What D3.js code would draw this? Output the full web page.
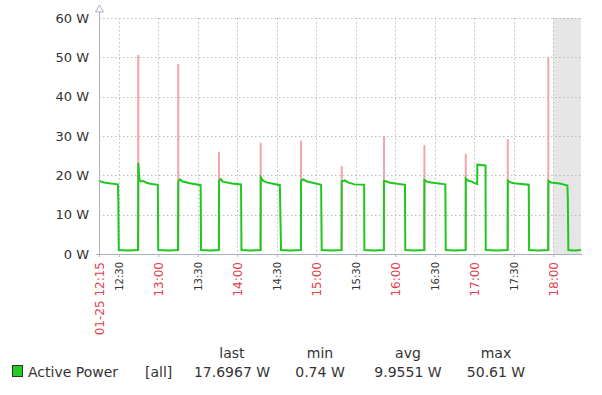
<!DOCTYPE html>
<html>
<head>
<meta charset="utf-8">
<script src="https://cdn.jsdelivr.net/npm/d3@7"></script>
<style>
  body { margin: 0; background: #fff; }
  svg { display: block; font-family: "DejaVu Sans", sans-serif; }
</style>
</head>
<body>
<div id="chart"></div>
<script>
// ---- data ----
const avgTimes = [
  "12:15:00","12:16:30","12:19:00","12:24:00","12:29:20","12:29:40","12:30:00","12:37:00","12:44:40",
  "12:44:50","12:45:40","12:47:00","12:48:30","12:51:00","12:55:00","12:59:40","13:00:00","13:08:00","13:15:00",
  "13:15:12","13:16:30","13:18:00","13:24:00","13:32:10","13:32:30","13:40:00","13:46:00",
  "13:46:06","13:47:30","13:49:00","13:56:00","14:02:50","14:03:00","14:03:10","14:10:00","14:17:40",
  "14:17:48","14:19:48","14:22:18","14:32:20","14:33:12","14:40:00","14:48:18",
  "14:48:24","14:50:00","14:52:30","15:03:40","15:04:06","15:12:00","15:19:10",
  "15:19:18","15:21:48","15:24:00","15:29:00","15:36:20","15:36:30","15:44:00","15:51:18",
  "15:51:24","15:53:00","15:56:00","16:07:20","16:07:36","16:15:00","16:22:00",
  "16:22:06","16:24:00","16:27:00","16:38:00","16:38:18","16:45:00","16:53:24",
  "16:53:30","16:55:30","16:58:00","17:01:00","17:02:10","17:02:18","17:08:30","17:08:40","17:17:00","17:25:18",
  "17:25:24","17:27:30","17:30:00","17:41:20","17:41:36","17:49:00","17:56:06",
  "17:56:12","17:58:00","18:05:00","18:10:40","18:11:00","18:11:24","18:16:00","18:21:00"
];
const avgValues = [
  18.7,18.4,18.2,17.9,17.7,14.0,1.0,0.9,1.0,
  23.2,18.9,18.4,18.6,18.1,17.8,17.6,1.0,0.9,1.0,
  18.6,19.0,18.5,18.0,17.5,1.0,0.9,1.0,
  18.6,19.0,18.4,17.9,17.7,11.0,1.0,0.9,1.0,
  19.5,18.6,18.2,17.5,1.0,0.9,1.0,
  18.6,19.0,18.5,17.6,1.0,0.9,1.0,
  18.5,18.7,18.2,17.7,17.6,1.0,0.9,1.0,
  18.6,18.5,18.1,17.6,1.0,0.9,1.0,
  18.8,18.4,18.2,17.7,1.0,0.9,1.0,
  19.2,18.6,18.4,17.9,17.8,22.7,22.5,1.0,0.9,1.0,
  18.6,18.2,18.0,17.6,1.0,0.9,1.0,
  18.6,18.2,17.9,17.4,14.0,1.0,0.9,1.0
];
const spikeTimes = ["12:44:50","13:15:12","13:46:06","14:17:48","14:48:24","15:19:18",
                    "15:51:24","16:22:06","16:53:30","17:25:24","17:56:12"];
const spikeMax = [50.61, 48.3, 26.0, 28.3, 28.8, 22.4, 30.0, 27.7, 25.5, 29.2, 49.9];

const yTicks = [0, 10, 20, 30, 40, 50, 60];
const xTickTimes = ["12:15","12:30","13:00","13:30","14:00","14:30","15:00","15:30",
                    "16:00","16:30","17:00","17:30","18:00"];
const xTickLabels = ["01-25 12:15","12:30","13:00","13:30","14:00","14:30","15:00","15:30",
                     "16:00","16:30","17:00","17:30","18:00"];
const timeStart = "12:15:00", timeEnd = "18:21:00", workEnd = "18:00:00";

const legendName = "Active Power";
const legendFunc = "[all]";
const statNames = ["last", "min", "avg", "max"];
const statValues = ["17.6967 W", "0.74 W", "9.9551 W", "50.61 W"];

// ---- drawing ----
const width = 602, height = 395;
const plot = {left: 99, right: 581, top: 18, bottom: 254};
const green = "#1ec81e", pink = "#f5a3ad", red = "#e2404c", axisCol = "#a9b1bc", gridCol = "#bdbdbd";

const parseT = d3.timeParse("%H:%M:%S");
const parseHM = d3.timeParse("%H:%M");

const avg = avgTimes.map((t, i) => ({t: parseT(t), v: avgValues[i]}));
const spikes = spikeTimes.map((t, i) => ({t: parseT(t), v: spikeMax[i]}));

const x = d3.scaleTime()
    .domain([parseT(timeStart), parseT(timeEnd)])
    .range([plot.left, plot.right]);
const y = d3.scaleLinear()
    .domain([0, 60])
    .range([plot.bottom, plot.top]);

const svg = d3.select("#chart").append("svg")
    .attr("width", width)
    .attr("height", height);

// non-working time shading
svg.append("rect")
    .attr("x", x(parseT(workEnd)))
    .attr("y", plot.top)
    .attr("width", plot.right - x(parseT(workEnd)))
    .attr("height", plot.bottom - plot.top)
    .attr("fill", "#e6e6e6");

// grid
const grid = svg.append("g").attr("stroke", gridCol).attr("stroke-dasharray", "1.5,2.5").attr("stroke-width", 1);
grid.selectAll("line.h")
  .data(yTicks.filter(d => d > 0))
  .join("line")
    .attr("x1", plot.left).attr("x2", plot.right)
    .attr("y1", d => Math.round(y(d)) + 0.5).attr("y2", d => Math.round(y(d)) + 0.5);
grid.selectAll("line.v")
  .data(xTickTimes.slice(1))
  .join("line")
    .attr("x1", d => Math.round(x(parseHM(d))) + 0.5).attr("x2", d => Math.round(x(parseHM(d))) + 0.5)
    .attr("y1", plot.top).attr("y2", plot.bottom);

// max spikes (under the avg line)
svg.append("g").selectAll("line")
  .data(spikes)
  .join("line")
    .attr("x1", d => x(d.t)).attr("x2", d => x(d.t))
    .attr("y1", y(1)).attr("y2", d => y(d.v))
    .attr("stroke", pink).attr("stroke-width", 2);

// avg line
svg.append("path")
    .datum(avg)
    .attr("fill", "none")
    .attr("stroke", green)
    .attr("stroke-width", 2)
    .attr("stroke-linejoin", "miter")
    .attr("d", d3.line().x(d => x(d.t)).y(d => y(d.v)));

// y axis
const yAxis = d3.axisLeft(y)
    .tickValues(yTicks)
    .tickSize(0)
    .tickPadding(10)
    .tickFormat(d => d + " W");
svg.append("g")
    .attr("transform", `translate(${plot.left},0)`)
    .call(yAxis)
    .call(g => g.select(".domain").remove())
    .selectAll("text")
      .attr("font-size", 13)
      .attr("font-family", "DejaVu Sans")
      .attr("fill", "#333");

// x axis labels
const xAxis = d3.axisBottom(x)
    .tickValues(xTickTimes.map(parseHM))
    .tickSize(3)
    .tickFormat((d, i) => xTickLabels[i]);
svg.append("g")
    .attr("transform", `translate(0,${plot.bottom})`)
    .call(xAxis)
    .call(g => g.select(".domain").remove())
    .call(g => g.selectAll(".tick line").attr("stroke", axisCol))
    .selectAll("text")
      .attr("font-family", "DejaVu Sans")
      .attr("text-anchor", "end")
      .attr("transform", "translate(0,8) rotate(-90)")
      .attr("x", 0).attr("y", 0).attr("dy", "0.35em")
      .attr("font-size", (d, i) => i === 0 || d.getMinutes() === 0 ? 12 : 10)
      .attr("fill", (d, i) => i === 0 || d.getMinutes() === 0 ? red : "#333");

// axis lines with arrows
const axes = svg.append("g").attr("stroke", axisCol).attr("fill", "#fff").attr("stroke-width", 1);
axes.append("line")
    .attr("x1", plot.left + 0.5).attr("x2", plot.left + 0.5)
    .attr("y1", 11).attr("y2", plot.bottom + 3);
axes.append("path")
    .attr("d", `M${plot.left + 0.5},5 L${plot.left - 3.5},12 L${plot.left + 4.5},12 Z`);
axes.append("line")
    .attr("x1", plot.left - 3).attr("x2", plot.right + 1)
    .attr("y1", plot.bottom + 0.5).attr("y2", plot.bottom + 0.5);

// legend
const legend = svg.append("g")
    .attr("font-family", "DejaVu Sans")
    .attr("font-size", 14)
    .attr("fill", "#333");
legend.append("rect")
    .attr("x", 12.5).attr("y", 365.5)
    .attr("width", 10).attr("height", 11)
    .attr("fill", "#22cc22").attr("stroke", "#333");
legend.append("text").attr("x", 28).attr("y", 377).text(legendName);
legend.append("text").attr("x", 145).attr("y", 377).text(legendFunc);
const statX = d3.scalePoint().domain(statNames).range([232, 496]);
legend.selectAll("text.h")
  .data(statNames)
  .join("text")
    .attr("x", d => statX(d)).attr("y", 358)
    .attr("text-anchor", "middle")
    .text(d => d);
legend.selectAll("text.v")
  .data(statNames)
  .join("text")
    .attr("x", d => statX(d)).attr("y", 377)
    .attr("text-anchor", "middle")
    .text((d, i) => statValues[i]);
</script>
</body>
</html>
